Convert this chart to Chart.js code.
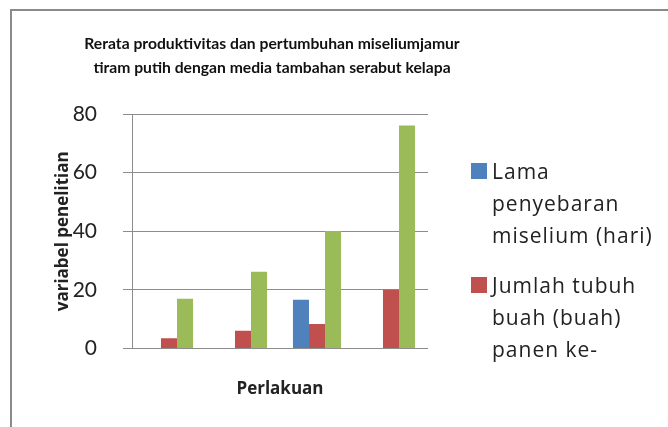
<!DOCTYPE html>
<html>
<head>
<meta charset="utf-8">
<script src="https://cdn.jsdelivr.net/npm/chart.js@4.4.0/dist/chart.umd.min.js"></script>
<style>
  body { margin: 0; background: #fff; width: 668px; height: 427px; overflow: hidden; position: relative; }
  .bingkai { position: absolute; left: 10px; top: 9px; width: 700px; height: 500px; border: 2px solid #8a8a8a; }
  #wadah { position: absolute; left: 12px; top: 11px; width: 520px; height: 416px; }
  #legenda { position: absolute; left: 471px; top: 155px; font-family: "Open Sans", sans-serif; font-size: 21px; letter-spacing: 1px; color: #222; }
  .item { position: relative; padding-left: 21px; line-height: 32px; margin-bottom: 18px; white-space: pre-line; }
  .kotak { position: absolute; left: 0; top: 8px; width: 16px; height: 16px; }
</style>
</head>
<body>
<div class="bingkai"></div>
<div id="wadah"><canvas id="grafik" width="520" height="416"></canvas></div>
<div id="legenda"></div>
<script>
// === Data ===
const perlakuan = ['1', '2', '3', '4'];
const lamaPenyebaran = [0, 0, 16.7, 0];
const jumlahTubuhBuah = [3.5, 6.1, 8.4, 20.1];
const beratTubuhBuah = [17.0, 26.2, 40.1, 76.1];
const labelSeri = ['Lama\npenyebaran\nmiselium (hari)', 'Jumlah tubuh\nbuah (buah)\npanen ke-', 'Berat tubuh buah'];
const warnaSeri = ['#4f81bd', '#c0504d', '#9bbb59'];
const tickY = [0, 20, 40, 60, 80];
const judul = ['Rerata produktivitas dan pertumbuhan miseliumjamur', 'tiram putih dengan media tambahan serabut kelapa'];

const grafik = new Chart(document.getElementById('grafik'), {
  type: 'bar',
  data: {
    labels: perlakuan,
    datasets: [lamaPenyebaran, jumlahTubuhBuah, beratTubuhBuah].map((d, i) => ({
      label: labelSeri[i],
      data: d,
      backgroundColor: warnaSeri[i],
      borderWidth: 0,
      categoryPercentage: 0.65,
      barPercentage: 1
    }))
  },
  options: {
    responsive: false,
    animation: false,
    layout: { padding: { left: 0, right: 0, top: 0, bottom: 28 } },
    plugins: {
      legend: { display: false },
      tooltip: { enabled: false },
      title: {
        display: true,
        text: judul,
        color: '#111',
        font: { family: 'Lato, sans-serif', size: 15.7, weight: 'bold', lineHeight: 1.53 },
        padding: { top: 21, bottom: 34 }
      }
    },
    scales: {
      x: {
        grid: { display: false, drawTicks: false },
        border: { display: false },
        ticks: { display: false },
        title: {
          display: true,
          text: 'Perlakuan',
          color: '#222',
          font: { family: '"Open Sans", sans-serif', size: 17, weight: 'bold' },
          padding: { top: 30, bottom: 0 }
        }
      },
      y: {
        min: 0,
        max: 80,
        afterBuildTicks: ax => { ax.ticks = tickY.map(v => ({ value: v })); },
        afterFit: ax => { ax.width = 120; },
        grid: { color: '#8c8c8c', tickLength: 9, drawTicks: true },
        border: { display: true, color: '#8c8c8c' },
        ticks: {
          color: '#222',
          padding: 26,
          font: { family: 'Lato, sans-serif', size: 21 }
        },
        title: {
          display: true,
          text: 'variabel penelitian',
          color: '#222',
          font: { family: '"Open Sans", sans-serif', size: 17, weight: 'bold' },
          padding: { top: 41, bottom: 4 }
        }
      },
      // ruang kosong di kanan untuk legenda
      kanan: {
        position: 'right',
        afterFit: ax => { ax.width = 104; },
        grid: { display: false, drawTicks: false },
        border: { display: false },
        ticks: { display: false }
      }
    }
  }
});

// === Legenda (hanya dua seri yang terlihat) ===
const legenda = document.getElementById('legenda');
grafik.data.datasets.slice(0, 2).forEach(ds => {
  const el = document.createElement('div');
  el.className = 'item';
  el.innerHTML = `<span class="kotak" style="background:${ds.backgroundColor}"></span>${ds.label}`;
  legenda.appendChild(el);
});
</script>
</body>
</html>
